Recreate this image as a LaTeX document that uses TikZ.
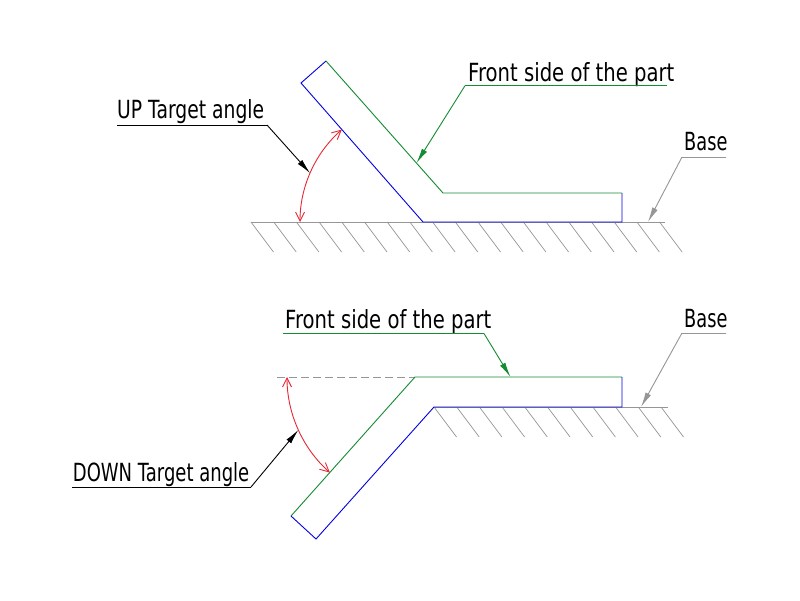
\documentclass[tikz,border=0pt]{standalone}
\usepackage{fontspec}
\setmainfont{DejaVu Sans}
\newfontfamily\fFront[FakeStretch=0.785]{DejaVu Sans}
\newfontfamily\fUp[FakeStretch=0.75]{DejaVu Sans}
\newfontfamily\fDown[FakeStretch=0.72]{DejaVu Sans}
\newfontfamily\fBase[FakeStretch=0.71]{DejaVu Sans}
\usetikzlibrary{arrows.meta,calc}
\definecolor{partblue}{RGB}{0,0,225}
\definecolor{partgreen}{RGB}{20,140,50}
\definecolor{arcred}{RGB}{230,40,55}
\definecolor{basegray}{RGB}{150,150,150}
\tikzset{
  label/.style={inner sep=0pt, anchor=base west, font=\fontsize{25}{29}\selectfont},
  blueline/.style={draw=partblue, line width=0.9pt},
  greenline/.style={draw=partgreen, line width=0.9pt},
  baseline/.style={draw=basegray, line width=0.8pt},
  hatchline/.style={draw=basegray, line width=0.7pt},
  dashline/.style={draw=basegray, line width=0.8pt, dash pattern=on 8pt off 4pt},
  anglearc/.style={draw=arcred, line width=0.9pt, {Straight Barb[length=9pt,width=9pt]}-{Straight Barb[length=9pt,width=9pt]}},
  blackleader/.style={draw=black, line width=0.9pt, -{Latex[length=15pt,width=6pt]}},
  greenleader/.style={draw=partgreen, line width=0.9pt, -{Latex[length=15pt,width=6pt]}},
  grayleader/.style={draw=basegray, line width=0.9pt, -{Latex[length=15pt,width=6pt]}},
}
\begin{document}
\begin{tikzpicture}[x=1pt,y=-1pt]
\useasboundingbox[fill=white] (0,0) rectangle (800,600);

% ---------------- TOP (UP) ----------------
\coordinate (tb1) at (251,222);
\coordinate (tb2) at (665,222);
\draw[baseline] (tb1) -- (tb2);
\foreach \k in {0,...,18}{
  \draw[hatchline] ({251+22.7*\k},222) -- ++(22.5,30);
}
\coordinate (ta) at (301,83);
\coordinate (tbb) at (326,61);
\coordinate (tc) at (443,193);
\coordinate (td) at (622,193);
\coordinate (te) at (622,222);
\coordinate (tf) at (423,222);
\draw[blueline] (tbb) -- (ta) -- (tf) -- (te) -- (td);
\draw[greenline] (tbb) -- (tc) -- (td);
\draw[anglearc] (tf) ++(180:123) arc[start angle=180, end angle=228.7, radius=123];
\coordinate (tarc) at ($(tf)+(203.4:123)$);

\node[label] (uptxt) at (117,118) {\fUp UP Target angle};
\coordinate (up1) at (117,125);
\coordinate (up2) at (267,125);
\draw[line width=0.9pt] (up1) -- (up2);
\draw[blackleader] (up2) -- (tarc);

\node[label] (fronttop) at (468,81) {\fFront Front side of the part};
\coordinate (ft1) at (465,85.7);
\coordinate (ft2) at (667,85.7);
\coordinate (fttip) at (416.5,163);
\draw[greenline] (ft2) -- (ft1);
\draw[greenleader] (ft1) -- (fttip);

\node[label] (basetop) at (684,150) {\fBase Base};
\coordinate (bt1) at (682,157);
\coordinate (bt2) at (726,157);
\coordinate (bttip) at (648,222);
\draw[baseline] (bt2) -- (bt1);
\draw[grayleader] (bt1) -- (bttip);

% ---------------- BOTTOM (DOWN) ----------------
\coordinate (bb1) at (434,407);
\coordinate (bb2) at (668,407);
\draw[baseline] (bb1) -- (bb2);
\foreach \k in {0,...,10}{
  \draw[hatchline] ({434+22.7*\k},407) -- ++(22.5,30);
}
\coordinate (ba) at (291,516);
\coordinate (bbq) at (316,539);
\coordinate (bc) at (415,377);
\coordinate (bd) at (622,377);
\coordinate (be) at (622,407);
\coordinate (bf) at (434,407);
\coordinate (bdash) at (277,377);
\draw[dashline] (bdash) -- (bc);
\draw[greenline] (ba) -- (bc) -- (bd);
\draw[blueline] (bd) -- (be) -- (bf) -- (bbq) -- (ba);
\draw[anglearc] (bc) ++(180:128) arc[start angle=180, end angle=131.7, radius=128];
\coordinate (barc) at ($(bc)+(155.6:128)$);

\node[label] (downtxt) at (72.7,481.7) {\fDown DOWN Target angle};
\coordinate (dn1) at (72,487);
\coordinate (dn2) at (251,487);
\draw[line width=0.9pt] (dn1) -- (dn2);
\draw[blackleader] (dn2) -- (barc);

\node[label] (frontbot) at (285,328.3) {\fFront Front side of the part};
\coordinate (fb1) at (283,333.5);
\coordinate (fb2) at (484,333.5);
\coordinate (fbtip) at (510.5,377);
\draw[greenline] (fb1) -- (fb2);
\draw[greenleader] (fb2) -- (fbtip);

\node[label] (basebot) at (684,327) {\fBase Base};
\coordinate (bs1) at (682,333);
\coordinate (bs2) at (726,333);
\coordinate (bstip) at (641,407);
\draw[baseline] (bs2) -- (bs1);
\draw[grayleader] (bs1) -- (bstip);
\end{tikzpicture}
\end{document}
